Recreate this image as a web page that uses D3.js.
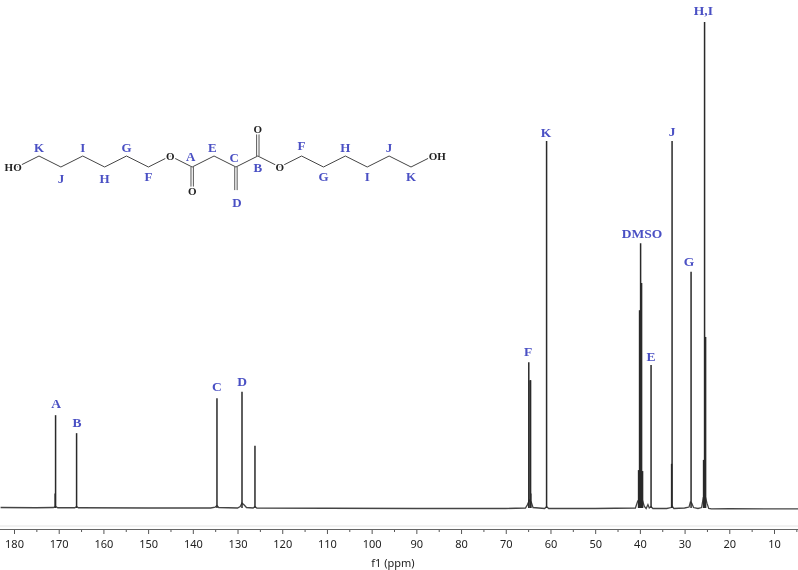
<!DOCTYPE html>
<html>
<head>
<meta charset="utf-8">
<script src="https://cdn.jsdelivr.net/npm/d3@7"></script>
<style>
  html, body { margin: 0; padding: 0; background: #fff; overflow: hidden; }
  svg { display: block; filter: blur(0.4px); }
</style>
</head>
<body>
<div id="chart"></div>
<script>
// Peak positions (ppm) and heights (percent of the tallest peak)
const peakPpm = [170.7, 170.8, 166.0, 134.6, 129.0, 126.1, 64.85, 64.56, 64.45, 64.4, 60.87,
    40.29, 40.07, 39.84, 39.62, 39.4, 37.5, 32.8, 32.9, 28.55, 25.53, 25.3, 25.75];
const peakHeight = [19.1, 3.0, 15.4, 22.6, 23.9, 12.8, 30.0, 26.3, 26.3, 3.0, 75.5,
    7.8, 40.7, 54.5, 46.3, 7.6, 29.4, 75.5, 9.1, 48.6, 100, 35.2, 9.9];

// Baseline, with the small humps at the feet of the peaks
const basePpm = [183, 175, 171.2, 170.7, 170.2, 166.4, 166, 165.6, 150, 136, 135, 134.6, 134.2, 130, 129.4, 129, 128.5, 128, 126.5, 126.1, 125.7,
    110, 90, 70, 65.6, 65.2, 64.7, 64.3, 63.9, 61.3, 60.87, 60.4, 50, 41, 40.5, 40, 39.5, 39, 38.6, 38.2, 37.9, 37.5, 37.1, 34, 33, 32.8, 32.4,
    30, 29, 28.7, 28.4, 28, 27, 26.2, 25.8, 25.4, 25, 24.6, 24, 20, 10, 4.6];
const baseHeight = [0.1, 0.05, 0.1, 0.3, 0.05, 0.05, 0.3, 0.05, 0, 0, 0.2, 0.5, 0.1, 0, 0.3, 1.0, 0.6, 0.1, 0, 0.3, 0,
    -0.05, -0.1, -0.1, 0, 0.6, 1.6, 1.2, 0.1, -0.1, 0.3, -0.1, -0.1, 0, 1.4, 2, 1.8, 0.3, -0.1, 0.7, 0, 0.3, -0.1, -0.1, 0.1, 0.4, -0.1,
    0, 0.2, 1.2, 1.0, 0.1, -0.1, 0.1, 2.2, 2.5, 1.0, -0.1, -0.2, -0.15, -0.2, -0.2];

// Peak assignment labels: ppm and height of the label baseline
const labelText = ["A", "B", "C", "D", "F", "K", "DMSO", "E", "J", "G", "H,I"];
const labelPpm = [170.6, 165.9, 134.6, 129.0, 65.0, 61.0, 39.5, 37.5, 32.8, 29.0, 25.8];
const labelHeight = [20.6, 16.7, 24.1, 25.2, 31.3, 76.4, 55.6, 30.2, 76.6, 49.8, 101.5];

const majorTicks = [180, 170, 160, 150, 140, 130, 120, 110, 100, 90, 80, 70, 60, 50, 40, 30, 20, 10];
const minorTicks = [175, 165, 155, 145, 135, 125, 115, 105, 95, 85, 75, 65, 55, 45, 35, 25, 15, 5];

// Molecule: backbone as position along the chain and level (0 = up, 1 = down)
const chainIndex = [-1, 0, 1, 2, 3, 4, 5, 6, 7, 8, 9, 10, 11, 12, 13, 14, 15, 16, 17, 18];
const chainLevel = [1, 0, 1, 0, 1, 0, 1, 0, 1, 0, 1, 0, 1, 0, 1, 0, 1, 0, 1, 0];
const doubleBonds = [[7, 1, 3.1], [9, 1, 3.1], [10, 0, -2.4]];
const atomText = ["HO", "O", "O", "O", "O", "OH"];
const atomIndex = [-1.18, 6, 7, 10, 11, 18.2];
const atomLevel = [1, 0, 3.2, -2.4, 1, 0];
const atomLetters = ["K", "J", "I", "H", "G", "F", "A", "E", "C", "B", "D", "F", "G", "H", "I", "J", "K"];
const letterIndex = [0, 1, 2, 3, 4, 5, 6.93, 7.92, 8.92, 10, 9.05, 12, 13, 14, 15, 16, 17];
const letterLevel = [-0.75, 2, -0.8, 2, -0.75, 1.85, 0.05, -0.75, 0.15, 1, 4.2, -1, 1.85, -0.8, 1.9, -0.8, 1.9];

const width = 798;
const height = 570;
const blue = "#4a50c4";

const svg = d3.select("#chart")
    .append("svg")
    .attr("width", width)
    .attr("height", height);

// Scales
const x = d3.scaleLinear().domain([180, 10]).range([14, 774]);
const y = d3.scaleLinear().domain([0, 100]).range([508, 22]);

// Structure inset scales
const molX = d3.scaleLinear().domain([0, 17]).range([39, 411]);
const molY = d3.scaleLinear().domain([0, 1]).range([156, 167]);

// Baseline
const baseline = base => d3.line()
    .x((d, i) => x(d))
    .y((d, i) => y(base[i]));

svg.append("path")
    .attr("d", baseline(baseHeight)(basePpm))
    .attr("fill", "none")
    .attr("stroke", "#444")
    .attr("stroke-width", 1.3);

// Peaks
svg.selectAll(".peak")
    .data(peakPpm)
    .enter().append("line")
    .attr("class", "peak")
    .attr("x1", d => x(d))
    .attr("x2", d => x(d))
    .attr("y1", y(0))
    .attr("y2", (d, i) => y(peakHeight[i]))
    .attr("stroke", "#2a2a2a")
    .attr("stroke-width", 1.5);

// Peak labels
svg.selectAll(".peak-label")
    .data(labelText)
    .enter().append("text")
    .attr("class", "peak-label")
    .attr("x", (d, i) => x(labelPpm[i]))
    .attr("y", (d, i) => y(labelHeight[i]))
    .attr("text-anchor", "middle")
    .attr("font-family", "'Liberation Serif', serif")
    .attr("font-weight", "bold")
    .attr("font-size", 13.5)
    .attr("fill", blue)
    .text(d => d);

// Grey band above the axis
svg.append("line")
    .attr("x1", 0)
    .attr("x2", width)
    .attr("y1", 526)
    .attr("y2", 526)
    .attr("stroke", "#e4e4e4")
    .attr("stroke-width", 1);

// Axes
const axisMajor = svg.append("g")
    .attr("transform", "translate(0,529)")
    .call(d3.axisBottom(x).tickValues(majorTicks).tickSize(5).tickPadding(6).tickFormat(d3.format("d")));

const axisMinor = svg.append("g")
    .attr("transform", "translate(0,529)")
    .call(d3.axisBottom(x).tickValues(minorTicks).tickSize(3).tickFormat(""));

axisMajor.select(".domain").remove();
axisMinor.select(".domain").remove();
svg.selectAll(".tick line").attr("stroke", "#555");
axisMajor.selectAll("text")
    .attr("font-family", "'Noto Sans', sans-serif")
    .attr("font-size", 11)
    .attr("fill", "#222");

svg.append("line")
    .attr("x1", 0)
    .attr("x2", width)
    .attr("y1", 529.5)
    .attr("y2", 529.5)
    .attr("stroke", "#666");

// x-axis label
svg.append("text")
    .attr("x", 393)
    .attr("y", 567)
    .attr("text-anchor", "middle")
    .attr("font-family", "'Noto Sans', sans-serif")
    .attr("font-size", 11)
    .attr("fill", "#222")
    .text("f1 (ppm)");

// Structure: backbone, with white halos on the atom text to open the bonds
const mol = svg.append("g");

mol.append("path")
    .attr("d", d3.line()
        .x(d => molX(d))
        .y((d, i) => molY(chainLevel[i]))(chainIndex))
    .attr("fill", "none")
    .attr("stroke", "#444")
    .attr("stroke-width", 1);

doubleBonds.forEach(function(b) {
    [-1.2, 1.2].forEach(function(off) {
        mol.append("line")
            .attr("x1", molX(b[0]) + off)
            .attr("x2", molX(b[0]) + off)
            .attr("y1", molY(b[1]))
            .attr("y2", molY(b[2]))
            .attr("stroke", "#444")
            .attr("stroke-width", 0.9);
    });
});

mol.selectAll(".atom")
    .data(atomText)
    .enter().append("text")
    .attr("class", "atom")
    .attr("x", (d, i) => molX(atomIndex[i]))
    .attr("y", (d, i) => molY(atomLevel[i]) + 3.5)
    .attr("text-anchor", "middle")
    .attr("font-family", "'Liberation Serif', serif")
    .attr("font-weight", "bold")
    .attr("font-size", 11)
    .attr("fill", "#222")
    .attr("stroke", "#fff")
    .attr("stroke-width", 3)
    .attr("paint-order", "stroke")
    .text(d => d);

mol.selectAll(".atom-letter")
    .data(atomLetters)
    .enter().append("text")
    .attr("class", "atom-letter")
    .attr("x", (d, i) => molX(letterIndex[i]))
    .attr("y", (d, i) => molY(letterLevel[i]) + 4.5)
    .attr("text-anchor", "middle")
    .attr("font-family", "'Liberation Serif', serif")
    .attr("font-weight", "bold")
    .attr("font-size", 13)
    .attr("fill", blue)
    .text(d => d);
</script>
</body>
</html>
